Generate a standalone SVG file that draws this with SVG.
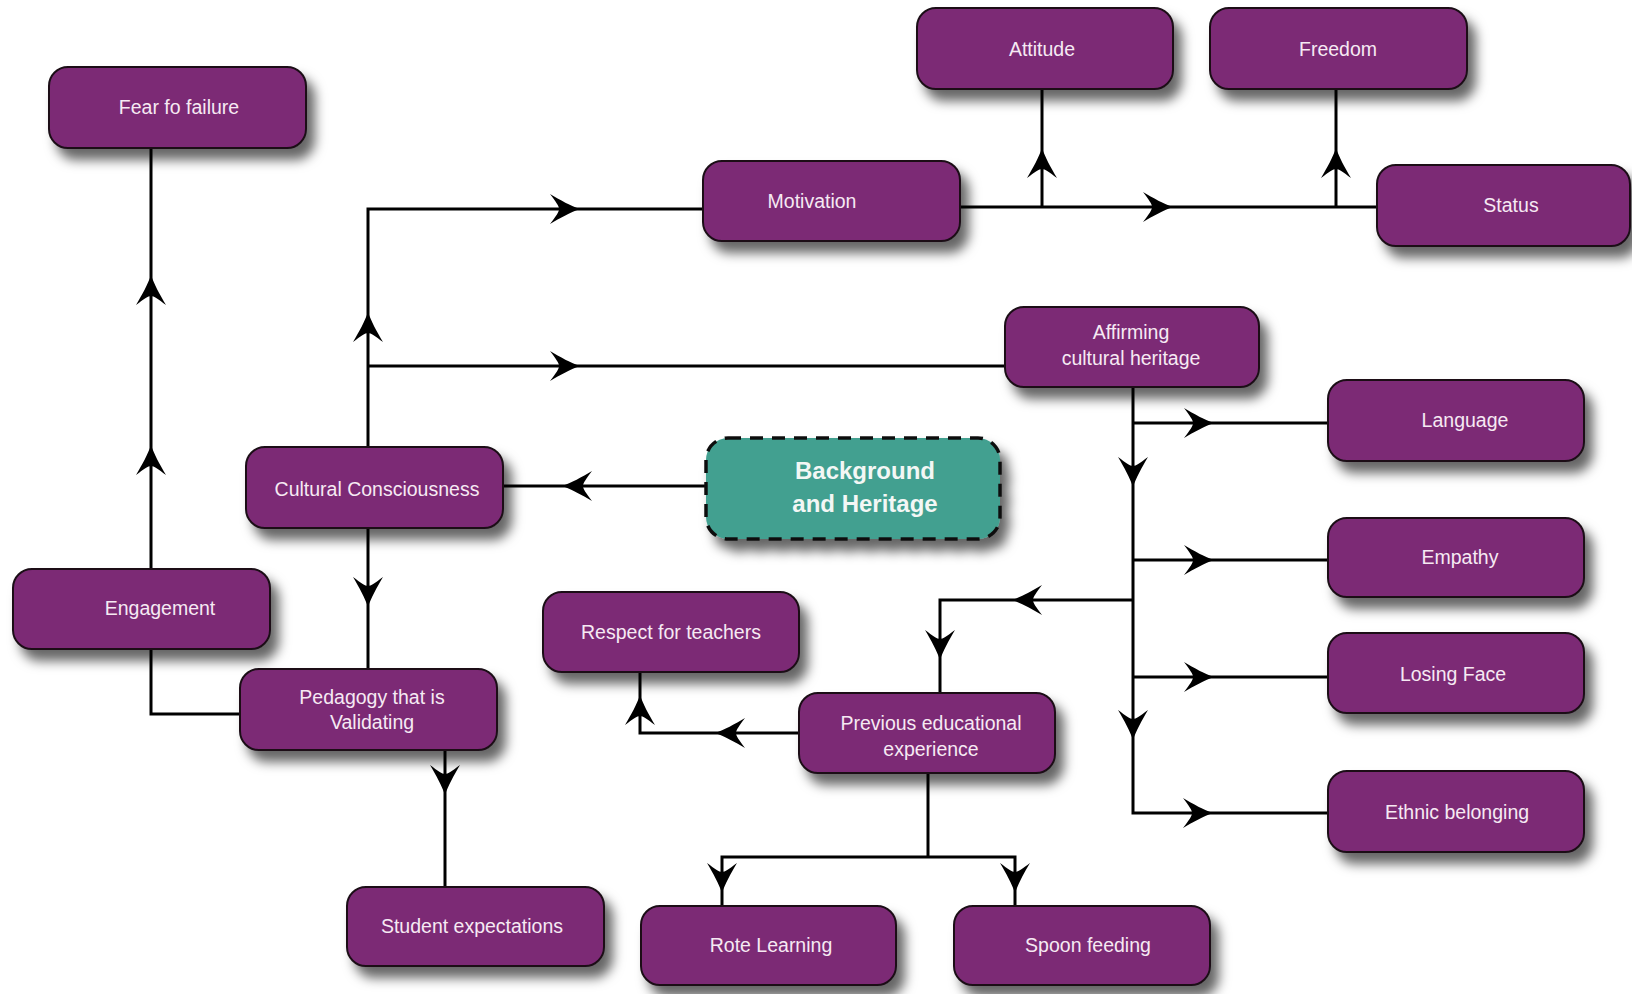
<svg xmlns="http://www.w3.org/2000/svg" xmlns:xlink="http://www.w3.org/1999/xlink" width="1632" height="994" viewBox="0 0 1632 994">
<defs>
<filter id="sh" x="-20%" y="-30%" width="150%" height="180%">
<feDropShadow dx="8" dy="11" stdDeviation="6" flood-color="#000" flood-opacity="0.6"/>
</filter>
<path id="ah" d="M0,0 C-9,-3 -20,-9 -30,-15 C-24,-7 -21,-3 -21,0 C-21,3 -24,7 -30,15 C-20,9 -9,3 0,0 Z" fill="#000"/>
<style>
.box{fill:#7c2a75;stroke:#1b1019;stroke-width:2;filter:url(#sh)}
.bg{fill:#42a090;stroke:#111;stroke-width:3.5;stroke-dasharray:13 9;filter:url(#sh)}
.t{font-family:"Liberation Sans",Arial,sans-serif;font-size:19.5px;fill:#f6e9f3;text-anchor:middle}
.tb{font-family:"Liberation Sans",Arial,sans-serif;font-size:24px;font-weight:bold;fill:#f3f7f5;text-anchor:middle}
.conn path{fill:none;stroke:#000;stroke-width:3}
</style>
</defs>
<rect width="1632" height="994" fill="#fff"/>

<g id="connectors" class="conn">
<path d="M151,569 V148"/>
<path d="M151,649 V714 H240"/>
<path d="M368,447 V209 H703"/>
<path d="M368,366 H1005"/>
<path d="M706,486 H503"/>
<path d="M368,528 V669"/>
<path d="M960,207 H1377"/>
<path d="M1042,207 V89"/>
<path d="M1336,207 V89"/>
<path d="M1133,387 V813 H1328"/>
<path d="M1133,423 H1328"/>
<path d="M1133,560 H1328"/>
<path d="M1133,677 H1328"/>
<path d="M1133,600 H940 V693"/>
<path d="M799,733 H640 V672"/>
<path d="M445,750 V887"/>
<path d="M928,773 V857"/>
<path d="M722,906 V857 H1015 V906"/>
<use xlink:href="#ah" transform="translate(151,275) rotate(-90)"/>
<use xlink:href="#ah" transform="translate(151,445) rotate(-90)"/>
<use xlink:href="#ah" transform="translate(368,312) rotate(-90)"/>
<use xlink:href="#ah" transform="translate(580,209)"/>
<use xlink:href="#ah" transform="translate(580,366)"/>
<use xlink:href="#ah" transform="translate(562,486) rotate(180)"/>
<use xlink:href="#ah" transform="translate(368,607) rotate(90)"/>
<use xlink:href="#ah" transform="translate(1173,207)"/>
<use xlink:href="#ah" transform="translate(1042,148) rotate(-90)"/>
<use xlink:href="#ah" transform="translate(1336,148) rotate(-90)"/>
<use xlink:href="#ah" transform="translate(1133,487) rotate(90)"/>
<use xlink:href="#ah" transform="translate(1133,740) rotate(90)"/>
<use xlink:href="#ah" transform="translate(1214,423)"/>
<use xlink:href="#ah" transform="translate(1214,560)"/>
<use xlink:href="#ah" transform="translate(1214,677)"/>
<use xlink:href="#ah" transform="translate(1213,813)"/>
<use xlink:href="#ah" transform="translate(1012,600) rotate(180)"/>
<use xlink:href="#ah" transform="translate(940,660) rotate(90)"/>
<use xlink:href="#ah" transform="translate(715,733) rotate(180)"/>
<use xlink:href="#ah" transform="translate(640,695) rotate(-90)"/>
<use xlink:href="#ah" transform="translate(445,795) rotate(90)"/>
<use xlink:href="#ah" transform="translate(722,893) rotate(90)"/>
<use xlink:href="#ah" transform="translate(1015,893) rotate(90)"/>
</g>

<g id="fear"><rect class="box" x="49" y="67" width="257" height="81" rx="19"/><text class="t" x="179" y="114">Fear fo failure</text></g>
<g id="attitude"><rect class="box" x="917" y="8" width="256" height="81" rx="19"/><text class="t" x="1042" y="56">Attitude</text></g>
<g id="freedom"><rect class="box" x="1210" y="8" width="257" height="81" rx="19"/><text class="t" x="1338" y="56">Freedom</text></g>
<g id="motivation"><rect class="box" x="703" y="161" width="257" height="80" rx="19"/><text class="t" x="812" y="208">Motivation</text></g>
<g id="status"><rect class="box" x="1377" y="165" width="253" height="81" rx="19"/><text class="t" x="1511" y="212">Status</text></g>
<g id="affirming"><rect class="box" x="1005" y="307" width="254" height="80" rx="19"/><text class="t" x="1131" y="339">Affirming</text><text class="t" x="1131" y="365">cultural heritage</text></g>
<g id="cultural"><rect class="box" x="246" y="447" width="257" height="81" rx="19"/><text class="t" x="377" y="496">Cultural Consciousness</text></g>
<g id="background"><rect class="bg" x="706" y="438" width="294" height="101" rx="22"/><text class="tb" x="865" y="479">Background</text><text class="tb" x="865" y="512">and Heritage</text></g>
<g id="language"><rect class="box" x="1328" y="380" width="256" height="81" rx="19"/><text class="t" x="1465" y="427">Language</text></g>
<g id="engagement"><rect class="box" x="13" y="569" width="257" height="80" rx="19"/><text class="t" x="160" y="615">Engagement</text></g>
<g id="empathy"><rect class="box" x="1328" y="518" width="256" height="79" rx="19"/><text class="t" x="1460" y="564">Empathy</text></g>
<g id="respect"><rect class="box" x="543" y="592" width="256" height="80" rx="19"/><text class="t" x="671" y="639">Respect for teachers</text></g>
<g id="pedagogy"><rect class="box" x="240" y="669" width="257" height="81" rx="19"/><text class="t" x="372" y="704">Pedagogy that is</text><text class="t" x="372" y="729">Validating</text></g>
<g id="previous"><rect class="box" x="799" y="693" width="256" height="80" rx="19"/><text class="t" x="931" y="730">Previous educational</text><text class="t" x="931" y="756">experience</text></g>
<g id="losingface"><rect class="box" x="1328" y="633" width="256" height="80" rx="19"/><text class="t" x="1453" y="681">Losing Face</text></g>
<g id="ethnic"><rect class="box" x="1328" y="771" width="256" height="81" rx="19"/><text class="t" x="1457" y="819">Ethnic belonging</text></g>
<g id="student"><rect class="box" x="347" y="887" width="257" height="79" rx="19"/><text class="t" x="472" y="933">Student expectations</text></g>
<g id="rote"><rect class="box" x="641" y="906" width="255" height="79" rx="19"/><text class="t" x="771" y="952">Rote Learning</text></g>
<g id="spoon"><rect class="box" x="954" y="906" width="256" height="79" rx="19"/><text class="t" x="1088" y="952">Spoon feeding</text></g>
</svg>
